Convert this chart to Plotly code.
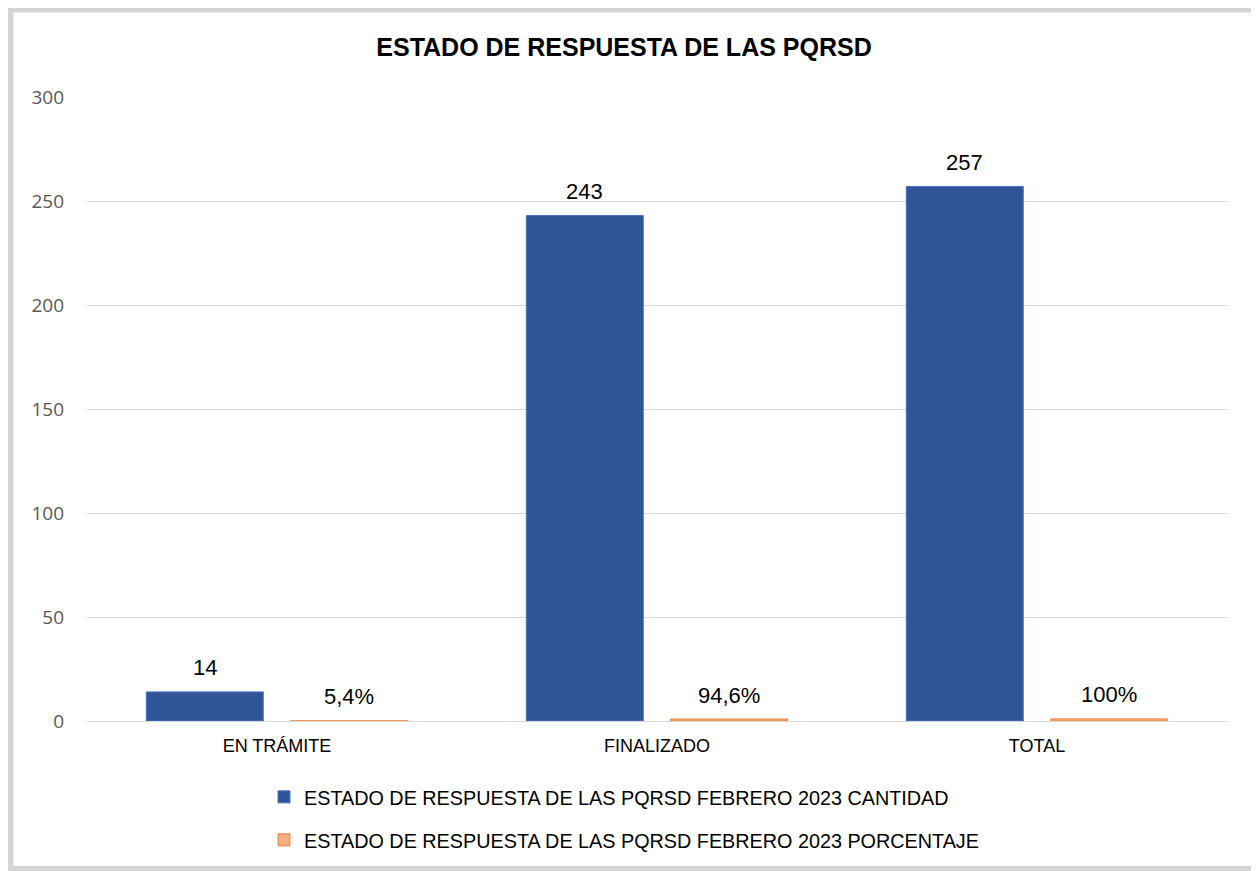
import plotly.graph_objects as go

# data
categories = ["EN TRÁMITE", "FINALIZADO", "TOTAL"]
cantidad = [14, 243, 257]
porcentaje = [0.054, 0.946, 1.0]
cantidad_labels = ["14", "243", "257"]
porcentaje_labels = ["5,4%", "94,6%", "100%"]
name_cantidad = "ESTADO DE RESPUESTA DE LAS PQRSD FEBRERO 2023 CANTIDAD"
name_porcentaje = "ESTADO DE RESPUESTA DE LAS PQRSD FEBRERO 2023 PORCENTAJE"
title_text = "ESTADO DE RESPUESTA DE LAS PQRSD"
y_ticks = [0, 50, 100, 150, 200, 250, 300]

# the page body has an 8px margin, so the figure is 8px smaller than the window
OFF = 8
W, H = 1259 - OFF, 871 - OFF
M = dict(l=87 - OFF, r=32, t=97 - OFF, b=150)
BARGAP = 0.24
BARGROUPGAP = 0.19

FONT = "Liberation Sans, Arial, sans-serif"

fig = go.Figure()
fig.add_trace(go.Bar(
    x=categories, y=cantidad, name=name_cantidad,
    marker=dict(color="#2F5597", line=dict(color="#4472C4", width=1)),
    legend="legend",
))
fig.add_trace(go.Bar(
    x=categories, y=porcentaje, name=name_porcentaje,
    marker=dict(color="#F4B183", line=dict(color="#ED7D31", width=1)),
    legend="legend2",
))

# data labels above each bar, shifted to the bar's slot in the group
plot_w = W - M["l"] - M["r"]
plot_h = H - M["t"] - M["b"]
cat_w = plot_w / len(categories)
shift = cat_w * (1 - BARGAP) / 4
for vals, labels, dx in [(cantidad, cantidad_labels, -shift),
                         (porcentaje, porcentaje_labels, shift)]:
    for c, v, t in zip(categories, vals, labels):
        fig.add_annotation(x=c, y=v, text=t, showarrow=False, xshift=dx,
                           yshift=24, yanchor="middle",
                           font=dict(family=FONT, size=22, color="#000000"))


# page pixel -> paper coordinate helpers
def px_x(p):
    return (p - OFF - M["l"]) / plot_w


def px_y(p):
    return (H - M["b"] - (p - OFF)) / plot_h


# outer grey frame of the chart
fig.add_shape(type="rect", xref="paper", yref="paper",
              x0=px_x(10), x1=px_x(1255.5), y0=px_y(869.5), y1=px_y(9),
              line=dict(color="#D4D4D4", width=7), layer="below")

fig.update_layout(
    width=W, height=H, margin=M,
    paper_bgcolor="white", plot_bgcolor="white",
    barmode="group", bargap=BARGAP, bargroupgap=BARGROUPGAP,
    title=dict(text=f"<b>{title_text}</b>", x=(624 - OFF) / W, xanchor="center",
               xref="container", y=1 - (47 - OFF) / H, yanchor="middle",
               font=dict(family=FONT, size=25, color="#000000")),
    xaxis=dict(showgrid=False, showline=False, ticks="",
               tickfont=dict(family=FONT, size=18, color="#000000"),
               ticklabelstandoff=12),
    yaxis=dict(range=[0, 300], tickvals=y_ticks, showgrid=True,
               gridcolor="#D9D9D9", gridwidth=1, zeroline=True,
               zerolinecolor="#D9D9D9", zerolinewidth=1, ticks="",
               tickfont=dict(family="Open Sans, sans-serif", size=19,
                             color="#595959"),
               ticklabelstandoff=22),
    legend=dict(x=px_x(264), xanchor="left", y=px_y(797), yanchor="middle",
                orientation="h", bgcolor="rgba(0,0,0,0)",
                font=dict(family=FONT, size=19.8, color="#000000")),
    legend2=dict(x=px_x(264), xanchor="left", y=px_y(840), yanchor="middle",
                 orientation="h", bgcolor="rgba(0,0,0,0)",
                 font=dict(family=FONT, size=19.8, color="#000000")),
    showlegend=True,
)

fig.write_html("out.html")
